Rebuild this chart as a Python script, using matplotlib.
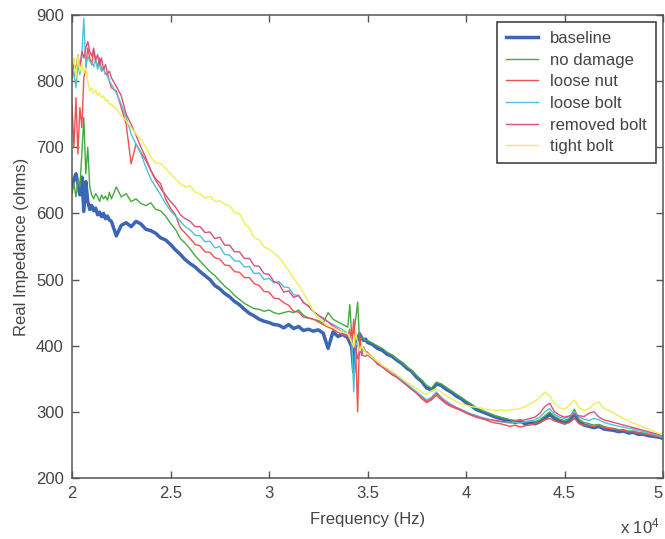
import numpy as np
import matplotlib.pyplot as plt

plt.rcParams['font.family'] = ['Liberation Sans', 'DejaVu Sans']
plt.rcParams['mathtext.default'] = 'regular'

# frequency in units of 10^4 Hz (denser where the traces spike)
freq = np.concatenate([
    np.linspace(2.0, 2.19, 20),
    np.linspace(2.2, 3.375, 48),
    np.linspace(3.4, 3.49, 10),
    np.linspace(3.5, 5.0, 61),
])

baseline = [
    640, 652, 660, 645, 628, 655, 603, 648, 618, 606,
    612, 604, 608, 598, 602, 595, 600, 592, 596, 590,
    588, 566, 582, 586, 580, 588, 584, 576,
    574, 570, 563, 560, 553, 545, 538, 530,
    524, 519, 512, 506, 500, 491, 486, 479,
    474, 467, 462, 455, 449, 445, 440, 437,
    435, 432, 431, 427, 432, 426, 429, 423,
    425, 422, 424, 419, 396, 421, 414, 417,
    412, 405, 398, 360, 400, 410, 418, 412, 408, 410,
    405, 402, 396, 393, 387, 384, 378, 373, 366, 361,
    352, 346, 336, 333, 342, 340, 334, 330, 324, 320,
    314, 310, 304, 301, 298, 295, 292, 290, 288, 286,
    284, 286, 282, 284, 282, 285, 290, 296, 290, 286,
    283, 286, 297, 284, 280, 278, 276, 278, 274, 273,
    272, 270, 271, 268, 269, 266, 266, 264, 263, 262,
    260,
]

no_damage = [
    630, 645, 625, 650, 640, 690, 745, 660, 700, 640,
    628, 622, 630, 625, 618, 628, 622, 626, 620, 632,
    622, 640, 625, 630, 618, 622, 615, 612,
    616, 606, 604, 596, 585, 576, 562, 555,
    546, 536, 528, 520, 512, 506, 498, 490,
    484, 476, 470, 464, 460, 456, 455, 452,
    454, 450, 448, 450, 452, 450, 454, 446,
    442, 440, 438, 434, 450, 440, 436, 432,
    428, 462, 415, 420, 440, 466, 405, 412, 410, 408,
    408, 404, 400, 396, 390, 386, 380, 375, 368, 362,
    355, 348, 340, 336, 345, 342, 337, 332, 327, 322,
    317, 312, 307, 303, 300, 297, 294, 292, 290, 288,
    287, 288, 285, 286, 285, 288, 294, 300, 293, 289,
    287, 290, 304, 288, 284, 282, 280, 281, 278, 276,
    275, 273, 273, 271, 271, 269, 268, 266, 265, 263,
    262,
]

loose_nut = [
    765, 700, 775, 690, 760, 730, 805, 820, 850, 835,
    825, 845, 830, 822, 835, 815, 820, 810, 812, 800,
    790, 785, 760, 735, 675, 705, 692, 680,
    665, 652, 645, 622, 608, 598, 578, 570,
    562, 553, 551, 542, 541, 533, 531, 522,
    521, 512, 511, 503, 503, 494, 491, 482,
    481, 472, 471, 465, 461, 452, 451, 443,
    442, 440, 436, 432, 428, 425, 420, 417,
    414, 425, 400, 440, 395, 300, 420, 385, 398, 392,
    390, 382, 372, 368, 362, 356, 352, 346, 340, 334,
    328, 320, 314, 318, 325, 318, 312, 308, 305, 302,
    298, 295, 292, 290, 288, 285, 283, 282, 280, 278,
    280, 277, 279, 280, 282, 284, 288, 290, 286, 284,
    282, 284, 290, 282, 280, 279, 278, 280, 276, 275,
    274, 273, 272, 270, 270, 268, 267, 266, 264, 263,
    261,
]

loose_bolt = [
    800, 815, 790, 825, 810, 840, 895, 820, 838, 830,
    828, 822, 835, 818, 826, 815, 820, 810, 808, 800,
    795, 782, 765, 745, 720, 705, 690, 670,
    652, 640, 628, 615, 604, 596, 588, 580,
    575, 567, 566, 557, 558, 548, 550, 538,
    537, 528, 528, 519, 520, 509, 510, 500,
    502, 495, 497, 489, 488, 477, 476, 466,
    460, 452, 446, 440, 436, 432, 428, 424,
    418, 414, 410, 330, 405, 400, 395, 392, 396, 390,
    388, 382, 376, 370, 365, 360, 354, 348, 342, 336,
    330, 324, 318, 322, 330, 322, 316, 311, 307, 304,
    300, 297, 295, 292, 290, 288, 286, 285, 284, 283,
    284, 283, 285, 286, 288, 292, 300, 305, 296, 292,
    290, 293, 300, 292, 289, 287, 290, 288, 284, 282,
    280, 278, 277, 275, 274, 272, 270, 268, 266, 264,
    262,
]

removed_bolt = [
    805, 830, 815, 840, 820, 845, 835, 850, 860, 845,
    838, 850, 832, 840, 825, 835, 818, 825, 812, 815,
    805, 792, 778, 750, 735, 718, 700, 684,
    665, 650, 638, 628, 618, 610, 598, 592,
    588, 580, 580, 571, 572, 562, 564, 552,
    552, 542, 542, 532, 532, 521, 520, 509,
    508, 497, 494, 481, 483, 473, 476, 465,
    460, 452, 446, 442, 436, 430, 425, 420,
    415, 410, 405, 400, 395, 380, 392, 388, 385, 384,
    386, 380, 374, 368, 362, 357, 352, 346, 340, 334,
    328, 322, 316, 320, 328, 320, 314, 310, 306, 303,
    299, 296, 293, 291, 289, 288, 287, 286, 285, 285,
    286, 287, 288, 290, 292, 298, 308, 313, 300, 295,
    292, 294, 296, 294, 293, 298, 300, 292, 288, 286,
    284, 282, 280, 278, 276, 274, 272, 270, 268, 266,
    264,
]

tight_bolt = [
    820, 835, 805, 840, 815, 828, 812, 820, 800, 785,
    790, 782, 786, 778, 782, 775, 778, 770, 772, 765,
    765, 758, 748, 740, 730, 720, 712, 700,
    685, 676, 676, 668, 660, 652, 645, 640,
    642, 632, 630, 623, 626, 618, 619, 614,
    612, 601, 600, 585, 578, 563, 560, 549,
    546, 540, 534, 524, 514, 502, 492, 480,
    466, 452, 442, 436, 430, 428, 424, 420,
    418, 412, 405, 398, 420, 405, 392, 400, 395, 390,
    388, 382, 376, 370, 366, 361, 356, 350, 345, 340,
    335, 330, 326, 332, 335, 330, 324, 320, 316, 312,
    310, 308, 307, 306, 304, 303, 302, 303, 302, 303,
    304, 305, 308, 312, 316, 322, 330, 324, 312, 306,
    304, 310, 318, 306, 302, 305, 312, 315, 305, 302,
    298, 294, 290, 286, 283, 280, 277, 274, 271, 268,
    265,
]

series = [
    ('baseline', baseline, '#3b66b5', 2.5),
    ('no damage', no_damage, '#45a845', 1.0),
    ('loose nut', loose_nut, '#f0504e', 1.0),
    ('loose bolt', loose_bolt, '#4cc2d8', 1.0),
    ('removed bolt', removed_bolt, '#d9507f', 1.0),
    ('tight bolt', tight_bolt, '#eeee55', 1.0),
]

fig = plt.figure(figsize=(6.65, 5.39), dpi=100)
ax = fig.add_axes([72 / 665, 61 / 539, 591 / 665, 463 / 539])

for name, vals, col, lw in series:
    ax.plot(freq, vals, color=col, lw=lw, label=name)

ax.set_xlim(2, 5)
ax.set_ylim(200, 900)
ax.set_xticks([2, 2.5, 3, 3.5, 4, 4.5, 5])
ax.set_xticklabels(['2', '2.5', '3', '3.5', '4', '4.5', '5'])
ax.set_yticks(range(200, 901, 100))
ax.tick_params(direction='in', top=True, right=True, length=5, width=1,
               colors='#555555', labelcolor='#444444', labelsize=12, pad=6)
# keep the last x label inside the figure edge
ax.get_xticklabels()[-1].set_horizontalalignment('right')
for sp in ax.spines.values():
    sp.set_color('#555555')
    sp.set_linewidth(1.1)

ax.set_xlabel('Frequency (Hz)', fontsize=12, color='#444444', labelpad=8)
ax.set_ylabel('Real Impedance (ohms)', fontsize=12, color='#444444', labelpad=5)
fig.text(620 / 665, 1 - 533 / 539, r'x 10$^4$', fontsize=12, color='#444444',
         ha='left', va='baseline')

leg = ax.legend(loc='upper right', fontsize=12, fancybox=False, framealpha=1,
                edgecolor='#444444', borderaxespad=0.4, handlelength=1.9,
                labelspacing=0.4, borderpad=0.55, handletextpad=0.75,
                labelcolor='#444444')
leg.get_frame().set_linewidth(1.2)

fig.savefig('out.png', dpi=100)
